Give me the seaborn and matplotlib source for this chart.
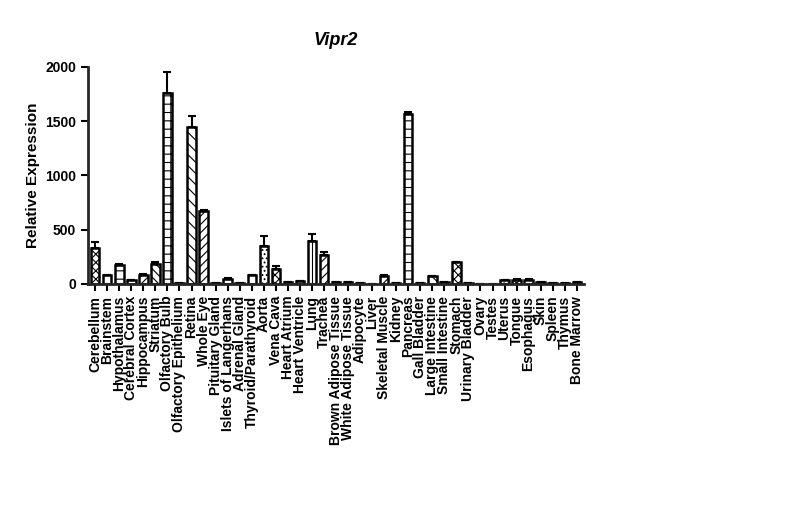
import numpy as np
import pandas as pd
import matplotlib
matplotlib.use("Agg")
import matplotlib.pyplot as plt
import seaborn as sns

tissues = ["Cerebellum", "Brainstem", "Hypothalamus", "Cerebral Cortex", "Hippocampus",
           "Striatum", "Olfactory Bulb", "Olfactory Epithelium", "Retina", "Whole Eye",
           "Pituitary Gland", "Islets of Langerhans", "Adrenal Gland", "Thyroid/Parathyroid",
           "Aorta", "Vena Cava", "Heart Atrium", "Heart Ventricle", "Lung", "Trachea",
           "Brown Adipose Tissue", "White Adipose Tissue", "Adipocyte", "Liver",
           "Skeletal Muscle", "Kidney", "Pancreas", "Gall Bladder", "Large Intestine",
           "Small Intestine", "Stomach", "Urinary Bladder", "Ovary", "Testes", "Uterus",
           "Tongue", "Esophagus", "Skin", "Spleen", "Thymus", "Bone Marrow"]
expression = [330, 80, 175, 35, 85, 180, 1760, 10, 1450, 670,
              10, 50, 5, 80, 350, 140, 20, 25, 400, 270,
              15, 20, 10, 2, 75, 5, 1570, 10, 70, 20,
              200, 5, 3, 2, 35, 40, 40, 20, 5, 5, 15]
sem = [60, 5, 8, 3, 5, 25, 190, 1, 100, 10,
       1, 5, 1, 5, 90, 25, 2, 3, 60, 20,
       2, 2, 1, 1, 5, 1, 15, 1, 5, 2,
       5, 1, 1, 1, 5, 3, 3, 2, 1, 1, 2]

df = pd.DataFrame({"Tissue": tissues, "Expression": expression, "SEM": sem})

sns.set_style("ticks")
plt.rcParams["font.family"] = ["Liberation Sans", "DejaVu Sans"]
plt.rcParams["hatch.linewidth"] = 0.8
plt.rcParams["text.color"] = "black"
plt.rcParams["axes.labelcolor"] = "black"
plt.rcParams["xtick.color"] = "black"
plt.rcParams["ytick.color"] = "black"

fig = plt.figure(figsize=(8, 5.22), dpi=100)
ax = fig.add_axes([0.11, 0.456, 0.62, 0.416])

sns.barplot(data=df, x="Tissue", y="Expression", color="white", edgecolor="black",
            linewidth=1.8, width=0.7, ax=ax, errorbar=None)

hatches = ["xxxx", "", "--", "", "////", "\\\\\\\\", "++", "", "\\\\\\", "////",
           "", "", "", "", "....", "xxxx", "", "", "||", "////"]
for i, p in enumerate(ax.patches):
    h = hatches[i % len(hatches)]
    if tissues[i] == "Pancreas":
        h = "--"
    if tissues[i] == "Stomach":
        h = "xxxx"
    p.set_hatch(h)

ax.errorbar(np.arange(len(tissues)), df["Expression"], yerr=[np.zeros(len(sem)), df["SEM"]],
            fmt="none", ecolor="black", elinewidth=1.5, capsize=3, capthick=1.5)

ax.set_ylim(0, 2000)
ax.set_xlim(-0.6, len(tissues) - 0.4)
ax.set_yticks([0, 500, 1000, 1500, 2000])
ax.set_ylabel("Relative Expression", fontsize=11, fontweight="bold")
ax.set_xlabel("")
ax.set_title("Vipr2", fontsize=13, fontweight="bold", style="italic", pad=16)
ax.tick_params(axis="x", rotation=90, labelsize=10, width=1.5, length=5)
ax.tick_params(axis="y", labelsize=10, width=1.5, length=5)
for lab in ax.get_xticklabels() + ax.get_yticklabels():
    lab.set_fontweight("bold")
for s in ["left", "bottom"]:
    ax.spines[s].set_linewidth(2)
sns.despine(ax=ax)

fig.savefig("out.png", dpi=100)
